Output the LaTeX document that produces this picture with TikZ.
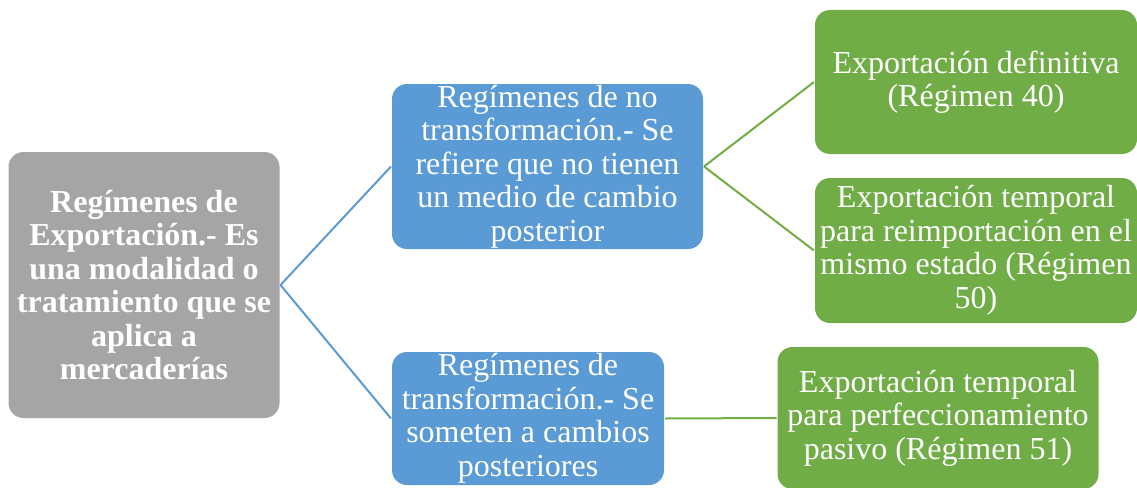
\documentclass[tikz,border=0pt]{standalone}
\usepackage{fontspec}
\setmainfont{Liberation Serif}
\usepackage{tikz}
\definecolor{gris}{HTML}{A5A5A5}
\definecolor{azul}{HTML}{5B9BD5}
\definecolor{verde}{HTML}{70AD47}
\tikzset{
    caja/.style={
           rectangle,
           rounded corners=15pt,
           text=white,
           inner sep=0pt,
           align=center,
           font=\fontsize{32}{33.5}\selectfont,
           },
    raiz/.style={caja,fill=gris,font=\fontsize{32}{33.5}\selectfont\bfseries},
    rama/.style={caja,fill=azul},
    hoja/.style={caja,fill=verde},
}

\begin{document}
\begin{tikzpicture}[x=1pt,y=-1pt,line width=2pt]
\useasboundingbox (0,0) rectangle (1137,487);
\node[raiz,minimum width=271pt,minimum height=266pt] (regimenes) at (144,285)
  {Regímenes de\\Exportación.- Es\\una modalidad o\\tratamiento que se\\aplica a\\mercaderías};
\node[rama,minimum width=311pt,minimum height=165pt] (notransf) at (547.5,166.5)
  {Regímenes de no\\transformación.- Se\\refiere que no tienen\\un medio de cambio\\posterior};
\node[rama,minimum width=272pt,minimum height=133pt] (transf) at (528,418.5)
  {Regímenes de\\transformación.- Se\\someten a cambios\\posteriores};
\node[hoja,minimum width=322pt,minimum height=144pt] (definitiva) at (976,82)
  {Exportación definitiva\\(Régimen 40)};
\node[hoja,minimum width=322pt,minimum height=145pt] (reimport) at (976,250.5)
  {Exportación temporal\\para reimportación en el\\mismo estado (Régimen\\50)};
\node[hoja,minimum width=321pt,minimum height=142pt] (pasivo) at (938,418)
  {Exportación temporal\\para perfeccionamiento\\pasivo (Régimen 51)};
\path[draw=azul] (regimenes.east) edge (notransf.west)
      (regimenes.east) edge (transf.west);
\path[draw=verde] (notransf.east) edge (definitiva.west)
      (notransf.east) edge (reimport.west)
      (transf.east) edge (pasivo.west);
\end{tikzpicture}
\end{document}
